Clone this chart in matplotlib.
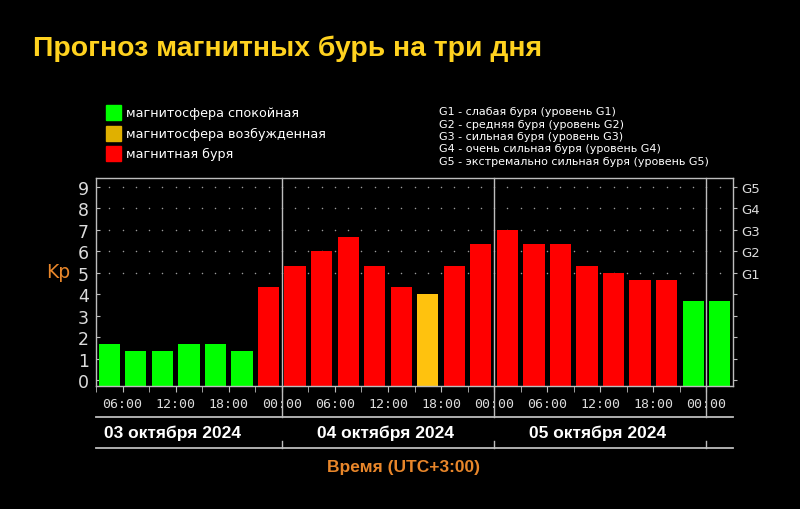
import matplotlib
matplotlib.use("Agg")
import matplotlib.pyplot as plt
import matplotlib.transforms as mtransforms
import numpy as np

# Kp forecast, 3-hour intervals starting 03.10.2024 03:00 (UTC+3)
bar_start_hours = [3, 6, 9, 12, 15, 18, 21,
                   24, 27, 30, 33, 36, 39, 42, 45,
                   48, 51, 54, 57, 60, 63, 66, 69,
                   72]
kp_values = [1.67, 1.33, 1.33, 1.67, 1.67, 1.33, 4.33,
             5.33, 6.0, 6.67, 5.33, 4.33, 4.0, 5.33, 6.33,
             7.0, 6.33, 6.33, 5.33, 5.0, 4.67, 4.67, 3.67,
             3.67]
status = ['q', 'q', 'q', 'q', 'q', 'q', 's',
          's', 's', 's', 's', 's', 'e', 's', 's',
          's', 's', 's', 's', 's', 's', 's', 'q',
          'q']

tick_hours = [6, 12, 18, 24, 30, 36, 42, 48, 54, 60, 66, 72]
tick_labels = ['06:00', '12:00', '18:00', '00:00', '06:00', '12:00',
               '18:00', '00:00', '06:00', '12:00', '18:00', '00:00']
day_bounds = [24, 48, 72]
day_labels = ['03 октября 2024', '04 октября 2024', '05 октября 2024']
day_label_hours = [11.6, 35.7, 59.7]

legend_labels = ['магнитосфера спокойная', 'магнитосфера возбужденная', 'магнитная буря']
g_levels = ['G1 - слабая буря (уровень G1)',
            'G2 - средняя буря (уровень G2)',
            'G3 - сильная буря (уровень G3)',
            'G4 - очень сильная буря (уровень G4)',
            'G5 - экстремально сильная буря (уровень G5)']

bar_colors = {'q': '#00FF00', 'e': '#FFC20E', 's': '#FF0000'}
legend_colors = ['#00FF00', '#E0B000', '#FF0000']
frame_col = '#BDBDBD'
text_col = '#DCDCDC'
orange = '#E8862A'
arial = ['Liberation Sans', 'DejaVu Sans']

plt.rcParams['font.family'] = ['DejaVu Sans']

fig = plt.figure(figsize=(8, 5.1), dpi=100, facecolor='black')
ax = fig.add_axes([0.12, 0.2412, 0.79625, 0.4078], facecolor='black')

# dotted grid at G levels
dot_x = np.arange(4.5, 75, 1.5)
for lvl in range(5, 10):
    ax.scatter(dot_x, [lvl] * len(dot_x), s=1.2, color='#9A9A9A', zorder=1, linewidths=0)

ymin = -0.28
ax.bar(np.array(bar_start_hours) + 0.3, np.array(kp_values) - ymin, width=2.4, align='edge',
       bottom=ymin, color=[bar_colors[s] for s in status], zorder=2)

ax.set_xlim(3, 75)
ax.set_ylim(ymin, 9.42)

for sp in ax.spines.values():
    sp.set_color(frame_col)
    sp.set_linewidth(1.0)

ax.set_yticks(range(10))
ax.tick_params(axis='y', colors=frame_col, labelcolor=text_col, labelsize=12.5,
               direction='in', length=3, pad=5)
ax.set_xticks(tick_hours)
ax.set_xticklabels(tick_labels, family='DejaVu Sans Mono', fontsize=9.5)
ax.set_xticks(np.arange(3, 75, 3), minor=True)
ax.tick_params(axis='x', which='both', colors=frame_col, labelcolor=text_col,
               direction='out', length=4, pad=4)

ax2 = ax.twinx()
ax2.set_ylim(ax.get_ylim())
ax2.set_yticks(range(10))
ax2.set_yticklabels([''] * 5 + ['G1', 'G2', 'G3', 'G4', 'G5'])
ax2.tick_params(axis='y', colors=frame_col, labelcolor=text_col, labelsize=9.5,
                direction='out', length=3, pad=3)
for sp in ax2.spines.values():
    sp.set_visible(False)

# day separators and date band under the axis
trans = mtransforms.blended_transform_factory(ax.transData, ax.transAxes)
for h in day_bounds:
    ax.plot([h, h], [1, -0.149], transform=trans, color=frame_col, lw=1.0,
            clip_on=False, zorder=3)
    ax.plot([h, h], [-0.298, -0.265], transform=trans, color=frame_col, lw=1.0,
            clip_on=False)
for yy in (-0.149, -0.298):
    ax.plot([3, 75], [yy, yy], transform=trans, color=frame_col, lw=1.3, clip_on=False)
for h, lab in zip(day_label_hours, day_labels):
    ax.text(h, -0.222, lab, transform=trans, ha='center', va='center', color='white',
            fontsize=12.5, fontweight='bold', family=arial)

fig.text(0.504, 1 - 468 / 510, 'Время (UTC+3:00)', ha='center', va='center',
         color=orange, fontsize=12.5, fontweight='bold', family=arial)
fig.text(0.0725, 1 - 273 / 510, 'Kp', ha='center', va='center', color=orange, fontsize=13.5)

# title
fig.text(33 / 800, 1 - 56 / 510, 'Прогноз магнитных бурь на три дня', ha='left',
         va='baseline', color='#FFD21F', fontsize=20.4, fontweight='bold', family=arial)

# colour legend
for i, (lab, col) in enumerate(zip(legend_labels, legend_colors)):
    yc = 113.5 + i * 20.5
    fig.patches.append(plt.Rectangle((106 / 800, 1 - (yc + 7.5) / 510), 15 / 800, 15 / 510,
                                     transform=fig.transFigure, color=col))
    fig.text(126 / 800, 1 - yc / 510, lab, ha='left', va='center', color='white', fontsize=9.2)

# storm level legend
for i, lab in enumerate(g_levels):
    fig.text(439 / 800, 1 - (112 + i * 12.5) / 510, lab, ha='left', va='center',
             color='white', fontsize=8)

fig.savefig('out.png', dpi=100, facecolor='black')
